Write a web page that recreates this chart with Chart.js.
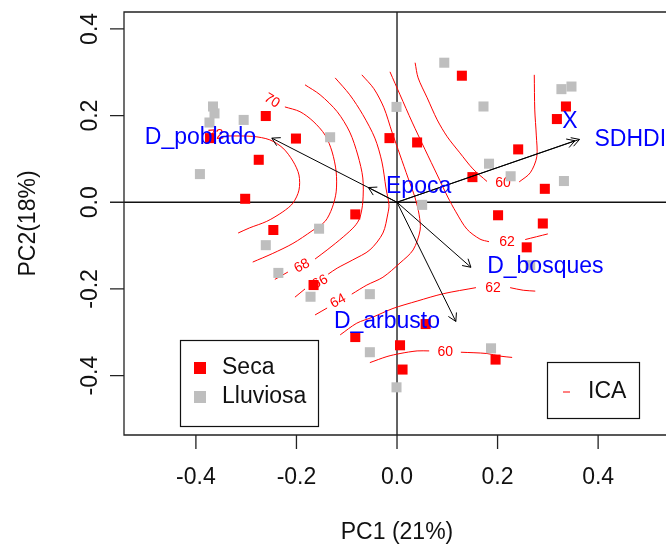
<!DOCTYPE html>
<html lang="es">
<head>
<meta charset="UTF-8">
<title>PCA biplot con superficie ICA</title>
<script src="https://cdn.jsdelivr.net/npm/chart.js"></script>
<style>
  html, body { margin: 0; padding: 0; background: #fff; overflow: hidden; }
  #wrap { width: 666px; height: 546px; }
</style>
</head>
<body>
<div id="wrap"><canvas id="pca" width="666" height="546"></canvas></div>
<script>
// site scores, dry season (Seca) and rainy season (Lluviosa)
const secaX = [-0.261, -0.201, -0.275, -0.302, -0.372, -0.015, 0.129, 0.336, 0.318, 0.241, 0.150, 0.294,
               0.040, 0.201, 0.290, 0.258, 0.057, 0.006, 0.011, 0.196, -0.246, -0.083, -0.166, -0.083];
const secaY = [0.199, 0.147, 0.098, 0.008, 0.148, 0.148, 0.292, 0.221, 0.192, 0.122, 0.058, 0.031,
               0.138, -0.030, -0.049, -0.104, -0.281, -0.330, -0.386, -0.363, -0.064, -0.028, -0.191, -0.311];
const lluvX = [-0.366, -0.363, -0.373, -0.305, -0.392, -0.133, -0.001, 0.094, 0.172, 0.327, 0.347, 0.183,
               0.226, 0.332, 0.050, 0.265, 0.187, -0.001, -0.155, -0.261, -0.236, -0.172, -0.054, -0.054];
const lluvY = [0.221, 0.205, 0.184, 0.190, 0.065, 0.150, 0.220, 0.322, 0.221, 0.261, 0.267, 0.089,
               0.060, 0.049, -0.006, -0.145, -0.337, -0.427, -0.061, -0.099, -0.163, -0.218, -0.212, -0.346];

// environmental vectors
const varNames = ['D_poblado', 'Epoca', 'SDHDI', 'X', 'D_bosques', 'D_arbusto'];
const arrowX = [-0.249, -0.057, 0.363, 0.354, 0.147, 0.117];
const arrowY = [0.148, 0.034, 0.145, 0.142, -0.150, -0.275];
const varLabelX = [-0.391, 0.043, 0.464, 0.344, 0.295, -0.020];
const varLabelY = [0.148, 0.036, 0.145, 0.186, -0.149, -0.276];

// ICA surface contours (ordisurf), split where the label sits
const c72 = [[-0.340, 0.153], [-0.287, 0.152], [-0.253, 0.144], [-0.227, 0.125], [-0.207, 0.095], [-0.195, 0.063],
             [-0.195, 0.028], [-0.207, -0.002], [-0.227, -0.022], [-0.259, -0.044], [-0.293, -0.059], [-0.316, -0.071]];
const c70 = [[-0.223, 0.220], [-0.193, 0.209], [-0.167, 0.187], [-0.143, 0.155], [-0.129, 0.116], [-0.121, 0.070],
             [-0.121, 0.024], [-0.129, -0.013], [-0.143, -0.044], [-0.169, -0.066], [-0.207, -0.095], [-0.247, -0.118], [-0.287, -0.138]];
const c68a = [[-0.183, 0.271], [-0.153, 0.248], [-0.119, 0.209], [-0.094, 0.162], [-0.078, 0.109], [-0.068, 0.056],
              [-0.068, 0.001], [-0.074, -0.036], [-0.084, -0.055], [-0.107, -0.080], [-0.139, -0.110], [-0.163, -0.131]];
const c68b = [[-0.217, -0.161], [-0.243, -0.178]];
const c66a = [[-0.123, 0.287], [-0.094, 0.248], [-0.068, 0.202], [-0.044, 0.148], [-0.030, 0.093], [-0.022, 0.033],
              [-0.016, -0.006], [-0.018, -0.025], [-0.028, -0.071], [-0.054, -0.110], [-0.088, -0.133], [-0.119, -0.152], [-0.137, -0.166]];
const c66b = [[-0.183, -0.200], [-0.203, -0.219]];
const c64a = [[-0.070, 0.294], [-0.046, 0.262], [-0.026, 0.218], [-0.010, 0.162], [0.006, 0.109], [0.022, 0.056],
              [0.036, 0.010], [0.044, -0.029], [0.046, -0.064], [0.032, -0.110], [0.006, -0.140], [-0.028, -0.173],
              [-0.060, -0.191], [-0.090, -0.212]];
const c64b = [[-0.139, -0.244], [-0.163, -0.260]];
const c62a = [[-0.014, 0.301], [0.006, 0.248], [0.030, 0.185], [0.056, 0.121], [0.080, 0.063], [0.101, 0.012],
              [0.117, -0.022], [0.139, -0.062], [0.165, -0.085], [0.183, -0.091]];
const c62b = [[0.255, -0.086], [0.300, -0.073]];
const c60a = [[0.036, 0.322], [0.042, 0.287], [0.060, 0.241], [0.080, 0.190], [0.100, 0.151], [0.125, 0.114],
              [0.151, 0.077], [0.179, 0.048]];
const c60b = [[0.243, 0.047], [0.265, 0.068], [0.278, 0.105], [0.277, 0.155], [0.274, 0.213], [0.273, 0.294]];
const c62c = [[-0.113, -0.306], [-0.080, -0.279], [-0.048, -0.265], [-0.008, -0.245], [0.040, -0.228], [0.092, -0.211], [0.157, -0.197]];
const c62d = [[0.225, -0.197], [0.251, -0.203], [0.275, -0.205]];
const c60c = [[-0.054, -0.370], [-0.020, -0.356], [0.006, -0.349], [0.040, -0.343], [0.064, -0.343]];
const c60d = [[0.127, -0.346], [0.179, -0.349], [0.205, -0.355], [0.229, -0.358]];

const contourText = ['72', '70', '68', '66', '64', '62', '60', '62', '60'];
const contourTextX = [-0.360, -0.249, -0.189, -0.153, -0.117, 0.219, 0.211, 0.191, 0.096];
const contourTextY = [0.155, 0.234, -0.147, -0.184, -0.228, -0.092, 0.043, -0.198, -0.346];
const contourTextAngle = [-5, 32, -28, -28, -28, 0, 0, 0, 0];

const xTicks = [-0.4, -0.2, 0.0, 0.2, 0.4];
const yTicks = [-0.4, -0.2, 0.0, 0.2, 0.4];

const FONT = '"Liberation Sans", Arial, sans-serif';

const toPts = (xs, ys) => xs.map((x, i) => ({ x: x, y: ys[i] }));
const pairs = arr => arr.map(p => ({ x: p[0], y: p[1] }));

const contours = [c72, c70, c68a, c68b, c66a, c66b, c64a, c64b, c62a, c62b, c60a, c60b, c62c, c62d, c60c, c60d];

const datasets = [];
contours.forEach(c => {
  datasets.push({
    data: pairs(c), showLine: true, borderColor: '#ff0000', borderWidth: 1,
    pointRadius: 0, tension: 0.3, order: 3
  });
});
datasets.push({
  label: 'Seca', data: toPts(secaX, secaY), pointStyle: 'rect', pointRadius: 7.1,
  backgroundColor: '#ff0000', borderWidth: 0, order: 2
});
datasets.push({
  label: 'Lluviosa', data: toPts(lluvX, lluvY), pointStyle: 'rect', pointRadius: 7.1,
  backgroundColor: '#bebebe', borderWidth: 0, order: 2
});
arrowX.forEach((ax, i) => {
  datasets.push({
    data: [{ x: 0, y: 0 }, { x: ax, y: arrowY[i] }], showLine: true,
    borderColor: '#000', borderWidth: 1, pointRadius: 0, order: 1
  });
});

const decor = {
  id: 'decor',
  beforeDatasetsDraw(chart) {
    const { ctx, chartArea: a, scales: { x, y } } = chart;
    ctx.save();
    const x0 = x.getPixelForValue(0), y0 = y.getPixelForValue(0);
    ctx.strokeStyle = '#111';
    ctx.lineWidth = 1.3;
    ctx.beginPath();
    ctx.moveTo(a.left, y0); ctx.lineTo(a.right, y0);
    ctx.moveTo(x0, a.top); ctx.lineTo(x0, a.bottom);
    ctx.stroke();

    // contour level labels
    ctx.fillStyle = '#ff0000';
    ctx.font = '14px ' + FONT;
    ctx.textAlign = 'center';
    ctx.textBaseline = 'middle';
    contourText.forEach((t, i) => {
      ctx.save();
      ctx.translate(x.getPixelForValue(contourTextX[i]), y.getPixelForValue(contourTextY[i]));
      ctx.rotate(contourTextAngle[i] * Math.PI / 180);
      ctx.fillText(t, 0, 0);
      ctx.restore();
    });
    ctx.restore();
  },
  afterDatasetsDraw(chart) {
    const { ctx, chartArea: a, scales: { x, y } } = chart;
    ctx.save();

    // arrow heads
    ctx.strokeStyle = '#000';
    ctx.lineWidth = 1;
    const ox = x.getPixelForValue(0), oy = y.getPixelForValue(0);
    arrowX.forEach((ax, i) => {
      const tx = x.getPixelForValue(ax), ty = y.getPixelForValue(arrowY[i]);
      const ang = Math.atan2(ty - oy, tx - ox);
      ctx.beginPath();
      [-1, 1].forEach(s => {
        const b = ang + Math.PI + s * Math.PI / 6;
        ctx.moveTo(tx, ty);
        ctx.lineTo(tx + 9 * Math.cos(b), ty + 9 * Math.sin(b));
      });
      ctx.stroke();
    });

    // variable labels
    ctx.fillStyle = '#0000ff';
    ctx.font = '23px ' + FONT;
    ctx.textAlign = 'center';
    ctx.textBaseline = 'middle';
    varNames.forEach((n, i) => {
      ctx.fillText(n, x.getPixelForValue(varLabelX[i]), y.getPixelForValue(varLabelY[i]));
    });

    // frame (right side runs past the window) and axes
    ctx.strokeStyle = '#222';
    ctx.lineWidth = 1.3;
    ctx.beginPath();
    ctx.moveTo(a.right + 5, a.top); ctx.lineTo(a.left, a.top);
    ctx.lineTo(a.left, a.bottom); ctx.lineTo(a.right + 5, a.bottom);
    ctx.stroke();
    ctx.fillStyle = '#111';
    ctx.beginPath();
    xTicks.forEach(v => {
      const px = x.getPixelForValue(v);
      ctx.moveTo(px, a.bottom); ctx.lineTo(px, a.bottom + 14);
    });
    yTicks.forEach(v => {
      const py = y.getPixelForValue(v);
      ctx.moveTo(a.left, py); ctx.lineTo(a.left - 14, py);
    });
    ctx.stroke();
    xTicks.forEach(v => {
      ctx.fillText(v.toFixed(1), x.getPixelForValue(v), a.bottom + 43);
    });
    yTicks.forEach(v => {
      ctx.save();
      ctx.translate(a.left - 33, y.getPixelForValue(v));
      ctx.rotate(-Math.PI / 2);
      ctx.fillText(v.toFixed(1), 0, 0);
      ctx.restore();
    });
    ctx.fillText('PC1 (21%)', x.getPixelForValue(0), a.bottom + 98);
    ctx.save();
    ctx.translate(a.left - 95, (a.top + a.bottom) / 2);
    ctx.rotate(-Math.PI / 2);
    ctx.fillText('PC2(18%)', 0, 0);
    ctx.restore();

    // legend: seasons
    ctx.lineWidth = 1.2;
    ctx.strokeStyle = '#111';
    ctx.strokeRect(180.5, 340.5, 138, 86);
    ctx.fillStyle = '#ff0000';
    ctx.fillRect(194, 362, 12, 12);
    ctx.fillStyle = '#bebebe';
    ctx.fillRect(194, 391, 12, 12);
    ctx.fillStyle = '#111';
    ctx.textAlign = 'left';
    ctx.fillText('Seca', 222, 368);
    ctx.fillText('Lluviosa', 222, 397);

    // legend: ICA
    ctx.strokeRect(547.5, 362.5, 92, 56);
    ctx.strokeStyle = '#ff0000';
    ctx.lineWidth = 1;
    ctx.beginPath();
    ctx.moveTo(563, 392); ctx.lineTo(570, 392);
    ctx.stroke();
    ctx.fillText('ICA', 588, 392);
    ctx.restore();
  }
};

new Chart(document.getElementById('pca'), {
  type: 'scatter',
  data: { datasets: datasets },
  options: {
    responsive: false,
    animation: false,
    events: [],
    layout: { autoPadding: false, padding: { left: 124, top: 12, right: 0, bottom: 111 } },
    scales: {
      x: { type: 'linear', min: -0.543, max: 0.535, display: false },
      y: { type: 'linear', min: -0.537, max: 0.439, display: false }
    },
    plugins: { legend: { display: false }, tooltip: { enabled: false } }
  },
  plugins: [decor]
});
</script>
</body>
</html>
